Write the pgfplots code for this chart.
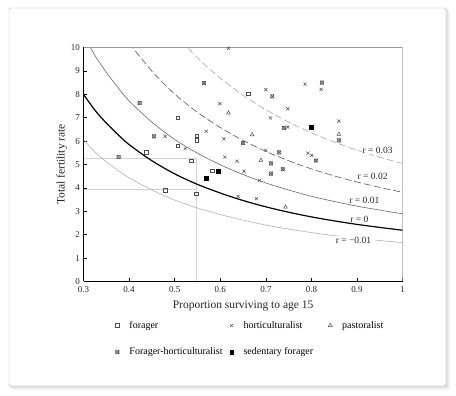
\documentclass[border=0pt]{standalone}
\usepackage{fontspec}
\setmainfont{Liberation Serif}
\usepackage{pgfplots}
\pgfplotsset{compat=1.18}
\pgfdeclareplotmark{boxx}{%
  \pgfpathrectangle{\pgfpoint{-\pgfplotmarksize}{-\pgfplotmarksize}}{\pgfpoint{2\pgfplotmarksize}{2\pgfplotmarksize}}%
  \pgfpathmoveto{\pgfpoint{-\pgfplotmarksize}{-\pgfplotmarksize}}\pgfpathlineto{\pgfpoint{\pgfplotmarksize}{\pgfplotmarksize}}%
  \pgfpathmoveto{\pgfpoint{-\pgfplotmarksize}{\pgfplotmarksize}}\pgfpathlineto{\pgfpoint{\pgfplotmarksize}{-\pgfplotmarksize}}%
  \pgfusepathqstroke}
\pgfplotsset{myleg/.style={legend image code/.code={\path[draw=none,fill=none] (0pt,-1pt) rectangle (17pt,1pt); \draw[##1] plot coordinates {(7pt,0pt)};}}}
\begin{document}
\begin{tikzpicture}
\path (0pt,0pt) rectangle (456pt,396pt);
\fill[black!5,rounded corners=2pt] (11pt,6pt) rectangle (450pt,386pt);
\fill[black!12,rounded corners=2pt] (10pt,8pt) rectangle (448pt,387pt);
\filldraw[fill=white,draw=black!30,rounded corners=1.5pt] (9pt,10pt) rectangle (446pt,388pt);
\begin{axis}[
  at={(83.5pt,114.5pt)}, anchor=south west, scale only axis,
  width=319.2pt, height=234pt,
  xmin=0.3, xmax=1, ymin=0, ymax=10,
  xtick={0.3,0.4,0.5,0.6,0.7,0.8,0.9,1},
  xticklabels={0.3,0.4,0.5,0.6,0.7,0.8,0.9,1},
  ytick={0,1,2,3,4,5,6,7,8,9,10},
  axis lines=left, axis line style={-,black,line width=0.6pt},
  tick align=inside, major tick length=3pt, tick style={black,line width=0.5pt},
  /pgf/number format/assume math mode=true,
  tick label style={font=\fontsize{9}{10}\selectfont, text=black!85},
  xticklabel style={yshift=-1.5pt},
  xlabel={Proportion surviving to age 15},
  ylabel={Total fertility rate},
  label style={font=\fontsize{11.5}{13}\selectfont, text=black!85},
  xlabel style={yshift=-1pt},
  ylabel style={yshift=-3pt},
  legend columns=3,
  legend cell align=left,
  legend style={draw=none, at={(0.0838,-0.16)}, anchor=north west,
    font=\fontsize{10}{11}\selectfont, row sep=14pt, column sep=0pt, inner sep=0pt},
]
% guide lines
\addplot[black!18, line width=0.6pt, forget plot] coordinates {(0.3,5.26) (0.547,5.26) (0.547,0)};
\addplot[black!18, line width=0.6pt, forget plot] coordinates {(0.3,3.94) (0.547,3.94)};
% r = 0.03
\addplot[black!35, line width=0.6pt, dash pattern=on 7pt off 3pt, smooth, forget plot] coordinates {
(0.50,10.58) (0.55,9.55) (0.60,8.69) (0.65,7.96) (0.70,7.34) (0.75,6.81) (0.80,6.35) (0.85,5.96) (0.90,5.61) (0.95,5.31) (1.00,5.04)};
% r = 0.02
\addplot[black!65, line width=0.6pt, dash pattern=on 7pt off 3pt, smooth, forget plot] coordinates {
(0.40,10.19) (0.45,8.99) (0.50,8.01) (0.55,7.23) (0.60,6.58) (0.65,6.03) (0.70,5.56) (0.75,5.16) (0.80,4.81) (0.85,4.51) (0.90,4.25) (0.95,4.02) (1.00,3.81)};
% r = 0.01
\addplot[black!60, line width=0.6pt, smooth, forget plot] coordinates {
(0.30,10.56) (0.325,9.66) (0.35,8.94) (0.375,8.30) (0.40,7.72) (0.45,6.81) (0.50,6.07) (0.55,5.48) (0.60,4.99) (0.65,4.57) (0.70,4.21) (0.75,3.91) (0.80,3.64) (0.85,3.42) (0.90,3.22) (0.95,3.05) (1.00,2.89)};
% r = 0
\addplot[black, line width=1.2pt, smooth, forget plot] coordinates {
(0.30,8.00) (0.325,7.32) (0.35,6.77) (0.375,6.29) (0.40,5.85) (0.45,5.16) (0.50,4.60) (0.55,4.15) (0.60,3.78) (0.65,3.46) (0.70,3.19) (0.75,2.96) (0.80,2.76) (0.85,2.59) (0.90,2.44) (0.95,2.31) (1.00,2.19)};
% r = -0.01
\addplot[black!30, line width=0.6pt, smooth, forget plot] coordinates {
(0.30,6.06) (0.325,5.54) (0.35,5.12) (0.375,4.76) (0.40,4.43) (0.45,3.91) (0.50,3.48) (0.55,3.14) (0.60,2.86) (0.65,2.62) (0.70,2.41) (0.75,2.24) (0.80,2.09) (0.85,1.96) (0.90,1.85) (0.95,1.75) (1.00,1.66)};
% curve labels
\node[font=\fontsize{9.5}{10}\selectfont, fill=white, inner sep=1pt, text=black!85] at (axis cs:0.945,5.62) {r = 0.03};
\node[font=\fontsize{9.5}{10}\selectfont, inner sep=1pt, text=black!85] at (axis cs:0.934,4.47) {r = 0.02};
\node[font=\fontsize{9.5}{10}\selectfont, inner sep=1pt, text=black!85] at (axis cs:0.916,3.47) {r = 0.01};
\node[font=\fontsize{9.5}{10}\selectfont, inner sep=1pt, text=black!85] at (axis cs:0.905,2.66) {r = 0};
\node[font=\fontsize{9.5}{10}\selectfont, fill=white, inner xsep=4pt, inner ysep=1pt, text=black!85] at (axis cs:0.892,1.76) {r = −0.01};
% data
\addplot[only marks, mark=square, mark size=1.7pt, black!70, mark options={line width=0.5pt}, myleg] coordinates {
(0.507,7.0) (0.507,5.79) (0.438,5.53) (0.549,6.22) (0.549,6.03) (0.536,5.15) (0.661,8.02) (0.582,4.72) (0.547,3.74) (0.479,3.9)};
\addlegendentry{forager}
\addplot[only marks, mark=x, mark size=2.2pt, black!70, mark options={line width=0.5pt}, myleg] coordinates {
(0.618,9.97) (0.70,8.2) (0.599,7.6) (0.748,7.38) (0.71,6.99) (0.748,6.6) (0.569,6.42) (0.608,6.1) (0.70,5.6) (0.61,5.32) (0.637,5.14) (0.786,8.43) (0.821,8.21) (0.86,6.85) (0.792,5.49) (0.801,5.39) (0.652,4.71) (0.686,4.32) (0.639,3.64) (0.679,3.54) (0.479,6.2) (0.523,5.68)};
\addlegendentry{horticulturalist}
\addplot[only marks, mark=triangle, mark size=2.2pt, black!70, mark options={line width=0.5pt}, myleg] coordinates {
(0.618,7.2) (0.67,6.27) (0.689,5.18) (0.86,6.29) (0.743,3.18)};
\addlegendentry{pastoralist}
\addplot[only marks, mark=boxx, mark size=1.7pt, black!70, mark options={line width=0.5pt}, myleg] coordinates {
(0.423,7.63) (0.455,6.2) (0.377,5.32) (0.564,8.48) (0.714,7.91) (0.74,6.56) (0.65,5.92) (0.729,5.52) (0.711,5.05) (0.711,4.61) (0.737,4.8) (0.823,8.5) (0.86,6.03) (0.81,5.17)};
\addlegendentry{Forager-horticulturalist}
\addplot[only marks, mark=square*, mark size=1.8pt, black, mark options={fill=black}, myleg] coordinates {
(0.799,6.6) (0.596,4.72) (0.569,4.42)};
\addlegendentry{sedentary forager\hspace*{8pt}}
\draw[black!40, line width=0.5pt] (rel axis cs:0,1) -- (rel axis cs:1,1) -- (rel axis cs:1,0);
\end{axis}
\end{tikzpicture}
\end{document}
